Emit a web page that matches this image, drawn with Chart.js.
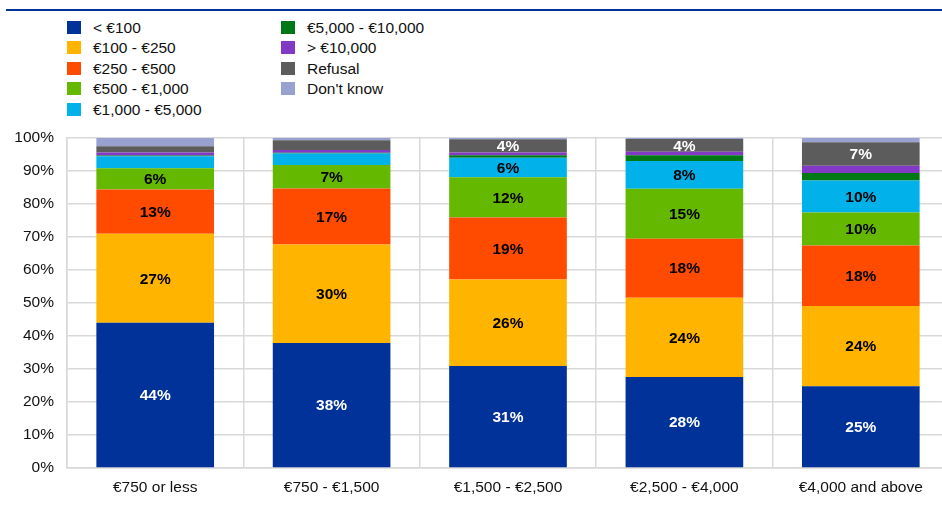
<!DOCTYPE html>
<html>
<head>
<meta charset="utf-8">
<script src="https://cdn.jsdelivr.net/npm/chart.js@4/dist/chart.umd.min.js"></script>
<style>
  html, body { margin: 0; padding: 0; background: #fff; overflow: hidden; width: 942px; height: 505px; }
  body { position: relative; font-family: "Liberation Sans", Arial, sans-serif; }
  #topline { position: absolute; left: 6px; top: 9px; width: 936px; height: 2px; background: #003399; }
  #legend { position: absolute; left: 0; top: 0; }
  .item { position: absolute; height: 14px; font-size: 15.5px; color: #111; white-space: nowrap; }
  .item span.box { position: absolute; left: 0; top: 0; width: 14px; height: 13px; }
  .item span.txt { position: absolute; left: 26px; top: -2px; line-height: 18px; }
  #bpChart { position: absolute; left: 0; top: 0; }
</style>
</head>
<body>
<div id="topline"></div>
<div id="legend"></div>
<canvas id="bpChart" width="950" height="505"></canvas>
<script>
const categories = ['€750 or less', '€750 - €1,500', '€1,500 - €2,500', '€2,500 - €4,000', '€4,000 and above'];

const seriesNames = ['< €100', '€100 - €250', '€250 - €500', '€500 - €1,000', '€1,000 - €5,000',
                     '€5,000 - €10,000', '> €10,000', 'Refusal', "Don't know"];

// shares in %, one value per income group
const under100    = [44.0, 37.9, 30.9, 27.6, 24.8];
const e100to250   = [27.0, 29.8, 26.2, 24.0, 24.3];
const e250to500   = [13.4, 17.0, 18.8, 17.9, 18.3];
const e500to1000  = [6.4, 7.1, 12.2, 15.1, 10.0];
const e1000to5000 = [3.7, 3.5, 5.9, 8.4, 9.7];
const e5000to10000 = [0.2, 0.2, 0.8, 1.8, 2.3];
const over10000   = [0.9, 0.9, 0.8, 1.0, 2.2];
const refusal     = [1.9, 2.9, 4.0, 3.9, 7.1];
const dontKnow    = [2.5, 0.7, 0.4, 0.3, 1.3];

const yTicks = [0, 10, 20, 30, 40, 50, 60, 70, 80, 90, 100];

const colors = ['#003299', '#FFB400', '#FF4B00', '#65B800', '#00B1EA', '#007816', '#8139C6', '#5C5C5C', '#98A1D0'];
const allSeries = [under100, e100to250, e250to500, e500to1000, e1000to5000, e5000to10000, over10000, refusal, dontKnow];
const whiteLabels = [0, 7];
const labelMin = 3.75;
const font = '"Liberation Sans", Arial, sans-serif';

// legend, two columns
const legend = document.getElementById('legend');
seriesNames.forEach((name, i) => {
    const col = i < 5 ? 0 : 1;
    const row = i < 5 ? i : i - 5;
    const item = document.createElement('div');
    item.className = 'item';
    item.style.left = (col === 0 ? 67 : 281) + 'px';
    item.style.top = (21 + row * 20.4) + 'px';
    item.innerHTML = `<span class="box" style="background:${colors[i]}"></span><span class="txt">${name}</span>`;
    legend.appendChild(item);
});

const segLabels = {
    id: 'segLabels',
    afterDatasetsDraw(chart) {
        const ctx = chart.ctx;
        ctx.save();
        ctx.font = 'bold 15.5px ' + font;
        ctx.textAlign = 'center';
        ctx.textBaseline = 'middle';
        chart.data.datasets.forEach((ds, i) => {
            const meta = chart.getDatasetMeta(i);
            meta.data.forEach((bar, j) => {
                const v = ds.data[j];
                if (v < labelMin) return;
                ctx.fillStyle = whiteLabels.includes(i) ? '#ffffff' : '#000000';
                ctx.fillText(Math.round(v) + '%', bar.x, (bar.y + bar.base) / 2 + 1);
            });
        });
        ctx.restore();
    }
};

const ctx = document.getElementById('bpChart').getContext('2d');
new Chart(ctx, {
    type: 'bar',
    data: {
        labels: categories,
        datasets: allSeries.map((vals, i) => ({
            label: seriesNames[i],
            data: vals,
            backgroundColor: colors[i],
            borderWidth: 0,
            categoryPercentage: 1,
            barPercentage: 0.667
        }))
    },
    options: {
        responsive: false,
        animation: false,
        layout: { padding: { top: 138, left: 0, right: 1, bottom: 0 } },
        plugins: {
            legend: { display: false },
            tooltip: { enabled: false }
        },
        scales: {
            x: {
                stacked: true,
                grid: { color: '#d9d9d9', lineWidth: 1.5, drawTicks: false },
                border: { color: '#d9d9d9', width: 1.5 },
                ticks: { color: '#111', font: { family: font, size: 15.5 }, padding: 10, maxRotation: 0 },
                afterFit: scale => { scale.height = 37; }
            },
            y: {
                stacked: true,
                min: 0,
                max: 100,
                afterBuildTicks: scale => { scale.ticks = yTicks.map(v => ({ value: v })); },
                grid: { color: '#d9d9d9', lineWidth: 1.5, drawTicks: false },
                border: { color: '#d9d9d9', width: 1.5 },
                ticks: { color: '#111', font: { family: font, size: 15.5 }, padding: 13, callback: v => v + '%' },
                afterFit: scale => { scale.width = 67; }
            }
        }
    },
    plugins: [segLabels]
});
</script>
</body>
</html>
